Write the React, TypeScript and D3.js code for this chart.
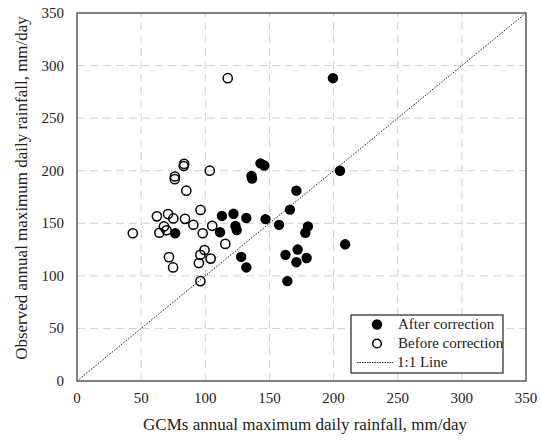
import React, { useEffect, useRef } from 'react';
import * as d3 from 'd3';

// GCM (x) vs observed (y) annual maximum daily rainfall, mm/day
const afterGcm = [199.5, 143, 146, 136, 136.5, 113, 122, 132, 111.5, 123.5, 124.5, 128, 132, 147, 157.5, 166, 162.5, 164, 76.5, 205, 171, 180, 178, 172, 171, 179, 209];
const afterObs = [288, 207, 205, 195, 192.5, 157, 159, 155, 141.5, 147.5, 143.5, 118, 108, 154, 148.5, 163, 120, 95, 140.5, 200, 181, 147, 141, 125, 113, 117, 130];

const beforeGcm = [117.5, 83.5, 83.2, 103.5, 76.3, 76.2, 85.2, 96.3, 62.3, 71, 75.1, 84.2, 90.7, 105.4, 67.8, 64.2, 69.8, 98, 43.5, 115.6, 71.7, 74.9, 99.4, 96.2, 95, 104.2, 96.2];
const beforeObs = [288, 206.5, 204.5, 200, 194.5, 192, 181, 162.7, 156.6, 158.8, 154.6, 154.2, 148.6, 147.6, 147, 141, 143.4, 140.5, 140.5, 130.4, 117.8, 108, 124.6, 120, 112.2, 116.4, 95];

const ticks = [0, 50, 100, 150, 200, 250, 300, 350];
const legendLabels = ['After correction', 'Before correction', '1:1 Line'];

const W = 541;
const H = 443;
const M = { left: 77, right: 15, top: 13, bottom: 62 };
const FONT = '"Liberation Serif", "Times New Roman", serif';

const App = () => {
  const ref = useRef<SVGSVGElement>(null);

  useEffect(() => {
    const svg = d3.select(ref.current);
    svg.selectAll('*').remove();

    const x = d3.scaleLinear().domain([0, 350]).range([M.left, W - M.right]);
    const y = d3.scaleLinear().domain([0, 350]).range([H - M.bottom, M.top]);

    svg.append('rect').attr('width', W).attr('height', H).attr('fill', '#fff');

    // gridlines
    const grid = svg.append('g').attr('stroke', '#d0d0d0').attr('stroke-width', 1).attr('stroke-dasharray', '8,5');
    grid.selectAll('.gx').data(ticks.slice(1, -1)).enter().append('line')
      .attr('x1', d => x(d)).attr('x2', d => x(d))
      .attr('y1', y(0)).attr('y2', y(350));
    grid.selectAll('.gy').data(ticks.slice(1, -1)).enter().append('line')
      .attr('y1', d => y(d)).attr('y2', d => y(d))
      .attr('x1', x(0)).attr('x2', x(350));

    // 1:1 line
    svg.append('line')
      .attr('x1', x(0)).attr('y1', y(0)).attr('x2', x(350)).attr('y2', y(350))
      .attr('stroke', '#222').attr('stroke-width', 1).attr('stroke-dasharray', '1.5,1.5');

    // frame
    svg.append('rect')
      .attr('x', x(0)).attr('y', y(350))
      .attr('width', x(350) - x(0)).attr('height', y(0) - y(350))
      .attr('fill', 'none').attr('stroke', '#595959').attr('stroke-width', 1.5);

    // tick labels
    svg.append('g').selectAll('text').data(ticks).enter().append('text')
      .attr('x', d => x(d)).attr('y', y(0) + 22)
      .attr('text-anchor', 'middle')
      .attr('font-family', FONT).attr('font-size', 15).attr('fill', '#222')
      .text(d => d);
    svg.append('g').selectAll('text').data(ticks).enter().append('text')
      .attr('x', x(0) - 13).attr('y', d => y(d) + 5)
      .attr('text-anchor', 'end')
      .attr('font-family', FONT).attr('font-size', 15).attr('fill', '#222')
      .text(d => d);

    // axis titles
    svg.append('text')
      .attr('x', 305).attr('y', 430)
      .attr('text-anchor', 'middle')
      .attr('font-family', FONT).attr('font-size', 17).attr('fill', '#222')
      .text('GCMs annual maximum daily rainfall, mm/day');
    svg.append('text')
      .attr('transform', 'translate(27, 188) rotate(-90)')
      .attr('text-anchor', 'middle')
      .attr('font-family', FONT).attr('font-size', 17).attr('fill', '#222')
      .text('Observed annual maximum daily rainfall, mm/day');

    // points
    svg.append('g').selectAll('circle').data(beforeGcm).enter().append('circle')
      .attr('cx', d => x(d)).attr('cy', (d, i) => y(beforeObs[i])).attr('r', 4.6)
      .attr('fill', 'none').attr('stroke', '#000').attr('stroke-width', 1.5);
    svg.append('g').selectAll('circle').data(afterGcm).enter().append('circle')
      .attr('cx', d => x(d)).attr('cy', (d, i) => y(afterObs[i])).attr('r', 5.2)
      .attr('fill', '#000');

    // legend
    const lg = svg.append('g').attr('transform', 'translate(351, 315)');
    lg.append('rect').attr('width', 152).attr('height', 58)
      .attr('fill', '#fff').attr('stroke', '#222').attr('stroke-width', 1.2);
    lg.append('circle').attr('cx', 26).attr('cy', 9.5).attr('r', 5.2).attr('fill', '#000');
    lg.append('circle').attr('cx', 26).attr('cy', 28.5).attr('r', 4.3)
      .attr('fill', 'none').attr('stroke', '#000').attr('stroke-width', 1.5);
    lg.append('line').attr('x1', 6).attr('x2', 42).attr('y1', 47.5).attr('y2', 47.5)
      .attr('stroke', '#222').attr('stroke-width', 1).attr('stroke-dasharray', '1.5,1');
    lg.selectAll('text').data(legendLabels).enter().append('text')
      .attr('x', (d, i) => (i === 2 ? 46 : 47)).attr('y', (d, i) => 14 + i * 19)
      .attr('font-family', FONT).attr('font-size', 15).attr('fill', '#222')
      .text(d => d);
  }, []);

  return (
    <svg ref={ref} width={W} height={H} style={{ position: 'absolute', left: 0, top: 0 }} />
  );
};

export default App;
